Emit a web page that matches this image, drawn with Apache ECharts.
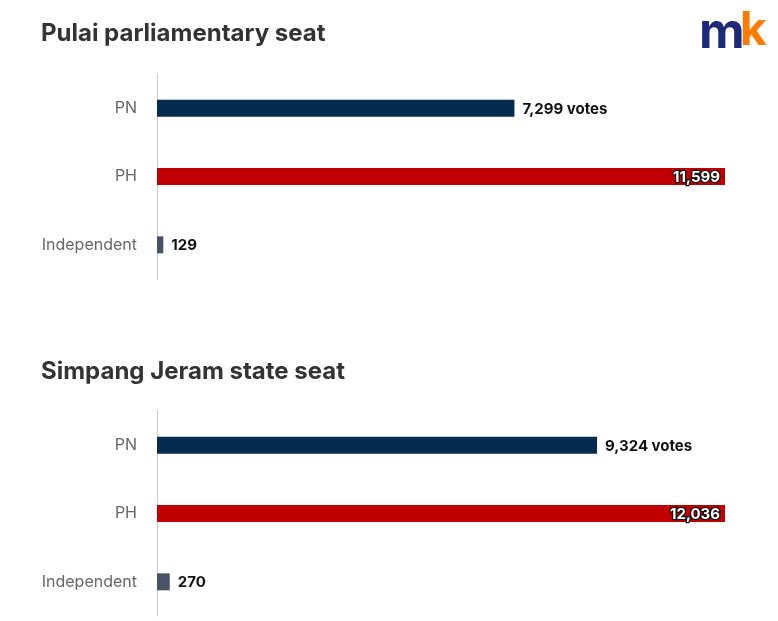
<!DOCTYPE html><html><head><meta charset="utf-8"><script src="https://cdn.jsdelivr.net/npm/echarts@6/dist/echarts.min.js"></script>
<style>html,body{margin:0;background:#fff}#c{width:778px;height:621px}</style></head><body><div id="c"></div><script>
const categories=['PN','PH','Independent'];
const pulaiValues=[7299,11599,129];
const simpangValues=[9324,12036,270];
const titles=['Pulai parliamentary seat','Simpang Jeram state seat'];
const colors=['#052c4e','#c00000','#4a5366'];
const chart=echarts.init(document.getElementById('c'));
function fmt(n){return n.toLocaleString('en-US');}
function series(vals,i){
 return {type:'bar',xAxisIndex:i,yAxisIndex:i,barWidth:17,animation:false,
  data:vals.map((v,j)=>({value:v,itemStyle:{color:colors[j]},
   label:j===1?{show:true,position:'insideRight',color:'#fff',textBorderColor:'#111',textBorderWidth:2.5,fontSize:15,fontWeight:'bold',fontFamily:'Inter',formatter:fmt(v),offset:[0,1]}
   :{show:true,position:'right',distance:8,color:'#111',fontSize:15,fontWeight:'bold',fontFamily:'Inter',formatter:j===0?fmt(v)+' votes':fmt(v),offset:[0,1]}}))};
}
const grids=[{left:157,right:53,top:74,height:205},{left:157,right:53,top:411,height:205}];
const yAxes=grids.map((g,i)=>({type:'category',gridIndex:i,inverse:true,data:categories,
 axisLine:{lineStyle:{color:'#cccccc'}},axisTick:{show:false},
 axisLabel:{color:'#666',fontSize:16,fontFamily:'Inter',margin:20}}));
const xAxes=[pulaiValues,simpangValues].map((v,i)=>({type:'value',gridIndex:i,min:0,max:v[1],show:false}));
chart.setOption({
 grid:grids,xAxis:xAxes,yAxis:yAxes,
 series:[series(pulaiValues,0),series(simpangValues,1)],
 title:[{text:titles[0],left:36,top:17,textStyle:{fontSize:24,fontWeight:'bold',color:'#333',fontFamily:'Inter'}},
        {text:titles[1],left:36,top:355,textStyle:{fontSize:24,fontWeight:'bold',color:'#333',fontFamily:'Inter'}}],
 graphic:[{type:'text',left:699,top:8,style:{text:'m',fill:'#1c2a7a',font:'bold 50px Inter'}},
          {type:'text',left:740,top:8,style:{text:'k',fill:'#ff7a00',font:'bold 46px Inter'}}]
});
</script></body></html>
